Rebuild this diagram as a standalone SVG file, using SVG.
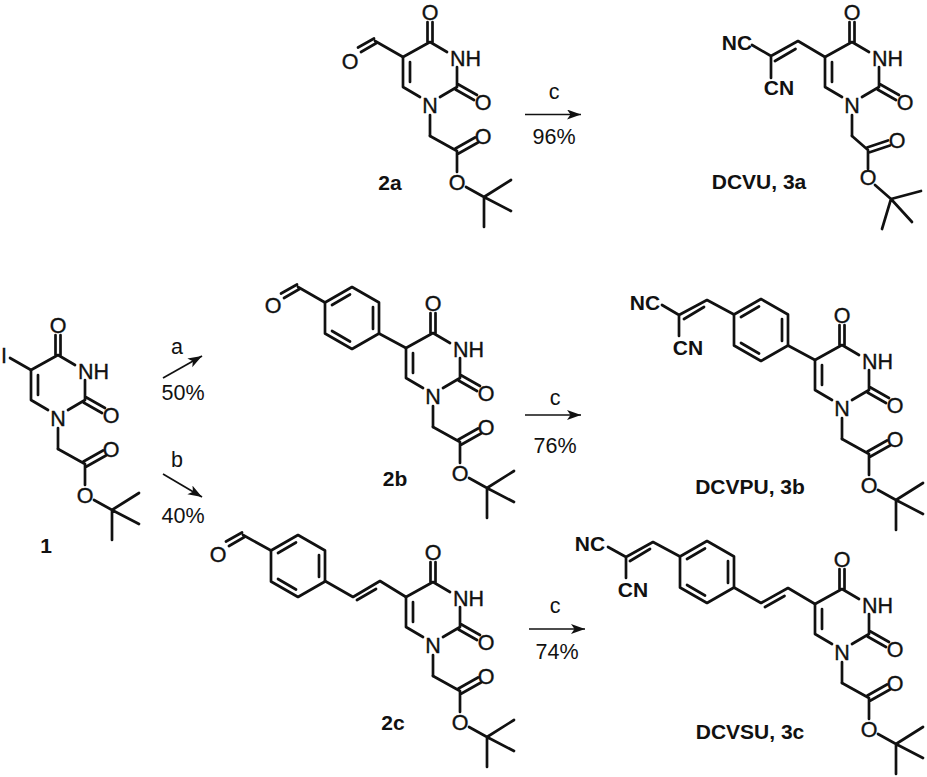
<svg xmlns="http://www.w3.org/2000/svg" xmlns:xlink="http://www.w3.org/1999/xlink" width="927" height="777" viewBox="0 0 927 777">
<style>
.b{fill:none;stroke:#111;stroke-width:2.7;stroke-linecap:round;stroke-linejoin:round}
text{font-family:"Liberation Sans",Arial,sans-serif;fill:#111;font-size:21.5px;stroke:#111;stroke-width:0.35}
.m{text-anchor:middle}
.h{font-weight:bold;font-size:21px;text-anchor:middle;stroke-width:0}
.r{font-size:21.5px;text-anchor:middle;stroke-width:0}
.w{stroke:#111;stroke-width:1.7;fill:none}
</style>
<defs>
<marker id="ah" markerUnits="userSpaceOnUse" markerWidth="15" markerHeight="11" refX="14" refY="5" orient="auto"><path d="M14,5 L0,0 L3.5,5 L0,10Z" fill="#111"/></marker>
<path id="ring" class="b" d="M-10,-6L-27,-16L-27,-46L0,-61L17,-51M27,-36L27,-16L10,-6M-20,-21L-20,-41M-2.5,-60L-2.5,-81M2.5,-60L2.5,-81M28.5,-18.5L47,-8M25.5,-13.5L44,-3M0,12L0,33"/>
<path id="ester" class="b" d="M0,33L27,48L27,69M25.5,45.5L45,34.5M28.5,50.5L48,39.5M36,84L54,94L81,77M54,94L81,108M54,94L54,124"/>
<path id="ester3a" class="b" d="M0,33L16,47L16,66M15,44.5L36,37.5M17,49.5L38,42.5M23,82L39,96L69,88M39,96L60,119M39,96L30,126"/>
<path id="hex" class="b" d="M0,-31L27,-15.5L27,15.5L0,31L-27,15.5L-27,-15.5ZM-2,-23.5L-20,-13M21,-11L21,11M-20,13L-2,23.5"/>
</defs>
<g id="connectors">
<path class="w" marker-end="url(#ah)" d="M525,114.5L581,114.5"/>
<path class="w" marker-end="url(#ah)" d="M525,415L581,415"/>
<path class="w" marker-end="url(#ah)" d="M529,629L585,629"/>
<path class="w" marker-end="url(#ah)" d="M163,378L202,356"/>
<path class="w" marker-end="url(#ah)" d="M163,474L202,497"/>
</g>
<g id="mol-1" transform="translate(58,416)">
<use href="#ring"/><use href="#ester"/>
<path class="b" d="M-27,-46L-48,-58"/>
<text class="m" x="-54" y="-53.500">I</text>
<text class="m" x="0" y="-83.500">O</text><text x="20" y="-37.500">NH</text><text class="m" x="0" y="9.500">N</text>
<text class="m" x="53" y="6.500">O</text><text class="m" x="53" y="40.500">O</text><text class="m" x="27" y="86.500">O</text>
</g>
<g id="mol-2a" transform="translate(430,103)">
<use href="#ring"/><use href="#ester"/>
<path class="b" d="M-27,-46L-55,-62M-56,-64.500L-72,-55.500M-53.500,-60L-69,-51"/>
<text class="m" x="-80" y="-34.500">O</text>
<text class="m" x="0" y="-83.500">O</text><text x="20" y="-37.500">NH</text><text class="m" x="0" y="9.500">N</text>
<text class="m" x="53" y="6.500">O</text><text class="m" x="53" y="40.500">O</text><text class="m" x="27" y="86.500">O</text>
</g>
<g id="mol-2b" transform="translate(433,394)">
<use href="#ring"/><use href="#ester"/>
<use href="#hex" x="-81" y="-76"/>
<path class="b" d="M-27,-46L-54,-60.500M-108,-91.500L-135,-107M-136,-109.500L-152,-100.500M-133.500,-105L-149,-96"/>
<text class="m" x="-160" y="-81.500">O</text>
<text class="m" x="0" y="-83.500">O</text><text x="20" y="-37.500">NH</text><text class="m" x="0" y="9.500">N</text>
<text class="m" x="53" y="6.500">O</text><text class="m" x="53" y="40.500">O</text><text class="m" x="27" y="86.500">O</text>
</g>
<g id="mol-2c" transform="translate(433,643)">
<use href="#ring"/><use href="#ester"/>
<use href="#hex" x="-135" y="-77"/>
<path class="b" d="M-27,-46L-53,-62L-80,-46L-108,-62M-57,-54L-76,-43M-162,-92.500L-190,-108M-191,-110.500L-207,-101.500M-188.500,-106L-204,-97"/>
<text class="m" x="-215" y="-81.500">O</text>
<text class="m" x="0" y="-83.500">O</text><text x="20" y="-37.500">NH</text><text class="m" x="0" y="9.500">N</text>
<text class="m" x="53" y="6.500">O</text><text class="m" x="53" y="40.500">O</text><text class="m" x="27" y="86.500">O</text>
</g>
<g id="mol-3a" transform="translate(852,103)">
<use href="#ring"/><use href="#ester3a"/>
<path class="b" d="M-27,-46L-54,-62L-81,-47L-100,-58M-56.500,-54L-77,-42M-81,-47L-81,-25"/>
<text class="h" x="-115" y="-53.500">NC</text><text class="h" x="-73" y="-8.500">CN</text>
<text class="m" x="0" y="-83.500">O</text><text x="20" y="-37.500">NH</text><text class="m" x="0" y="9.500">N</text>
<text class="m" x="53" y="6.500">O</text><text class="m" x="45" y="44.500">O</text><text class="m" x="16" y="81.500">O</text>
</g>
<g id="mol-3b" transform="translate(842,406)">
<use href="#ring"/><use href="#ester"/>
<use href="#hex" x="-81" y="-76"/>
<path class="b" d="M-27,-46L-54,-60.500M-108,-91.500L-135,-106L-163,-91L-180,-101M-138,-99L-158,-87M-163,-91L-163,-70"/>
<text class="h" x="-197" y="-96.500">NC</text><text class="h" x="-154" y="-51.500">CN</text>
<text class="m" x="0" y="-83.500">O</text><text x="20" y="-37.500">NH</text><text class="m" x="0" y="9.500">N</text>
<text class="m" x="53" y="6.500">O</text><text class="m" x="53" y="40.500">O</text><text class="m" x="27" y="86.500">O</text>
</g>
<g id="mol-3c" transform="translate(842,650)">
<use href="#ring"/><use href="#ester"/>
<use href="#hex" x="-135" y="-78"/>
<path class="b" d="M-27,-46L-54,-62L-81,-47L-108,-62.500M-57.500,-54L-77,-43M-162,-93.500L-189,-108L-216,-93L-234,-103M-192,-101L-212,-89M-216,-93L-216,-72"/>
<text class="h" x="-252" y="-99.500">NC</text><text class="h" x="-209" y="-53.500">CN</text>
<text class="m" x="0" y="-83.500">O</text><text x="20" y="-37.500">NH</text><text class="m" x="0" y="9.500">N</text>
<text class="m" x="53" y="6.500">O</text><text class="m" x="53" y="40.500">O</text><text class="m" x="27" y="86.500">O</text>
</g>
<g id="labels">
<text class="h" x="46" y="553">1</text>
<text class="h" x="390" y="190">2a</text>
<text class="h" x="395" y="486">2b</text>
<text class="h" x="393" y="730">2c</text>
<text class="h" x="759" y="189">DCVU, 3a</text>
<text class="h" x="750" y="494">DCVPU, 3b</text>
<text class="h" x="750" y="739">DCVSU, 3c</text>
<text class="r" x="554" y="99">c</text><text class="r" x="554" y="144">96%</text>
<text class="r" x="555" y="405">c</text><text class="r" x="555" y="453">76%</text>
<text class="r" x="555" y="613">c</text><text class="r" x="557" y="659">74%</text>
<text class="r" x="177" y="354">a</text><text class="r" x="183" y="400">50%</text>
<text class="r" x="177" y="467">b</text><text class="r" x="183" y="523">40%</text>
</g>
</svg>
